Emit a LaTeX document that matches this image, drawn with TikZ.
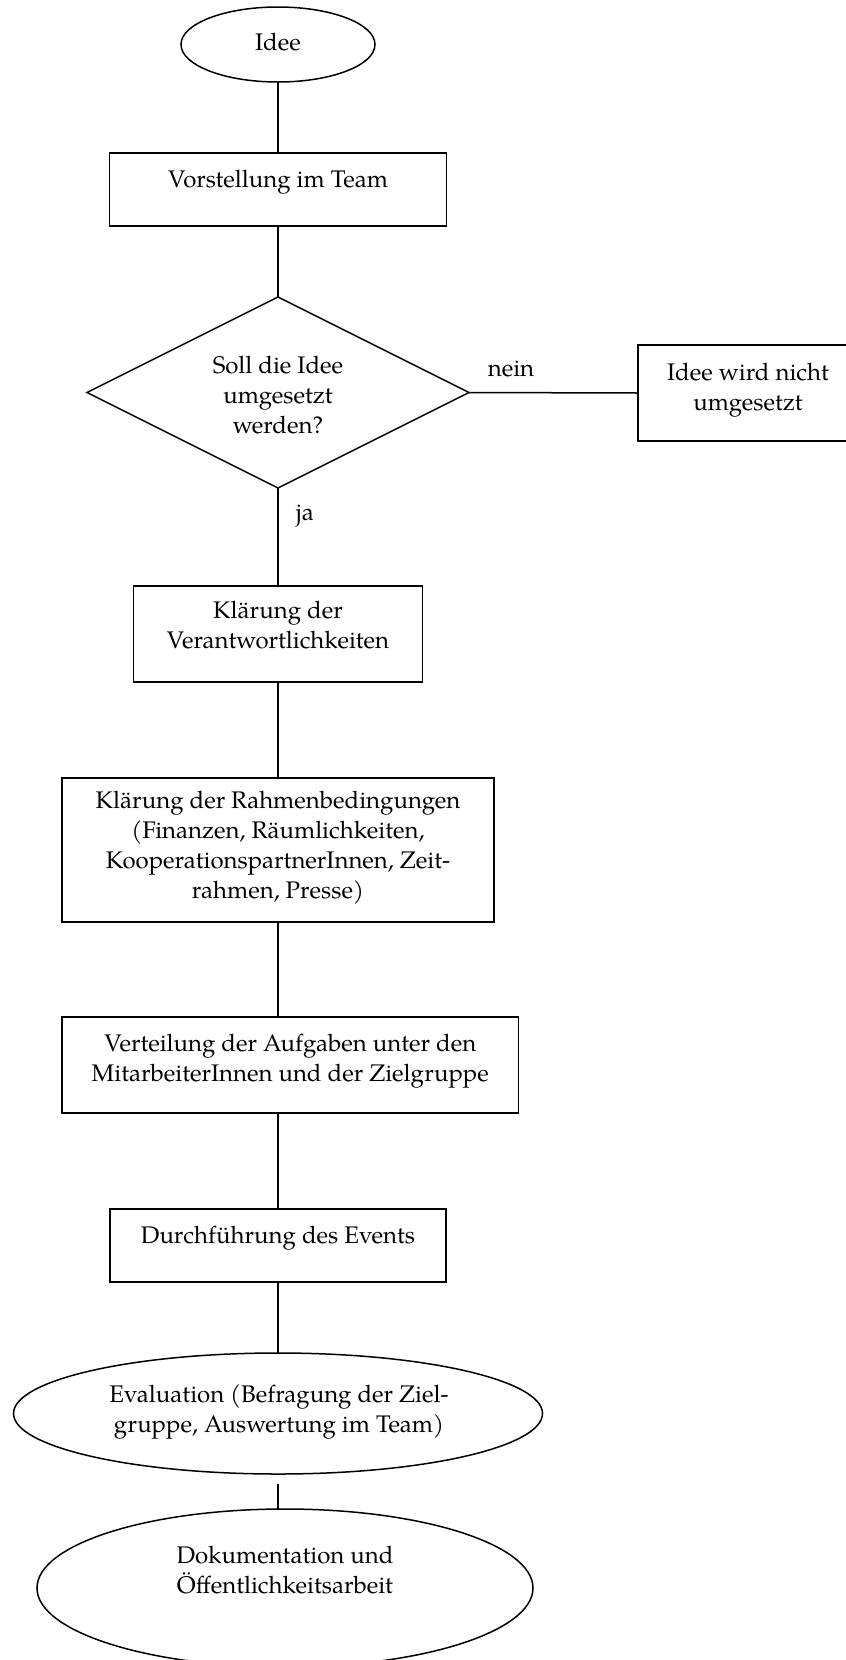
\documentclass[tikz,border=0pt]{standalone}
\usepackage{fontspec}
\setmainfont{TeX Gyre Pagella}
\usetikzlibrary{shapes.geometric}
\begin{document}
\begin{tikzpicture}[x=0.5pt,y=-0.5pt,
  conn/.style={draw=black,line width=0.75pt},
  box/.style={draw=black,line width=0.75pt,rectangle,inner sep=0pt,outer sep=0pt},
  oval/.style={draw=black,line width=0.75pt,ellipse,inner sep=0pt,outer sep=0pt},
  dia/.style={draw=black,line width=0.75pt,diamond,inner sep=0pt,outer sep=0pt},
  txt/.style={align=center,inner sep=0pt,anchor=base,font=\fontsize{12}{15}\selectfont},
]
\useasboundingbox (0,0) rectangle (846,1660);
\clip (0,0) rectangle (846,1660);

\node[oval,minimum width=97pt,minimum height=37.5pt] (idee) at (278,44.5) {};
\node[txt] (ideeT) at (278,50.7) {Idee};

\node[box,minimum width=168.5pt,minimum height=36.5pt] (vor) at (278,189.5) {};
\node[txt] (vorT) at (278,187.5) {Vorstellung im Team};

\node[dia,minimum width=191pt,minimum height=95.5pt] (dec) at (278,392.5) {};
\node[txt] (decT) at (278,433) {Soll die Idee\\umgesetzt\\werden?};

\node[txt] (nein) at (511,376) {nein};

\node[box,minimum width=110pt,minimum height=48pt] (nicht) at (748,393) {};
\node[txt] (nichtT) at (748,410) {Idee wird nicht\\umgesetzt};

\node[txt] (ja) at (305,520) {ja};

\node[box,minimum width=144.5pt,minimum height=48pt] (verant) at (278,634) {};
\node[txt] (verantT) at (278,648) {Klärung der\\Verantwortlichkeiten};

\node[box,minimum width=216pt,minimum height=72pt] (rahmen) at (278,850) {};
\node[txt] (rahmenT) at (278,898) {Klärung der Rahmenbedingungen\\(Finanzen, Räumlichkeiten,\\KooperationspartnerInnen, Zeit-\\rahmen, Presse)};

\node[box,minimum width=228.25pt,minimum height=48pt] (vert) at (290.3,1065) {};
\node[txt] (vertT) at (290.3,1081) {Verteilung der Aufgaben unter den\\MitarbeiterInnen und der Zielgruppe};

\node[box,minimum width=168pt,minimum height=36.5pt] (durch) at (278,1245.5) {};
\node[txt] (durchT) at (278,1243) {Durchführung des Events};

\node[oval,minimum width=264.5pt,minimum height=60.5pt] (eval) at (278,1413.5) {};
\node[txt] (evalT) at (279,1432) {Evaluation (Befragung der Ziel-\\gruppe, Auswertung im Team)};

\node[oval,minimum width=248pt,minimum height=79pt] (doku) at (285,1588) {};
\node[txt] (dokuT) at (285,1593) {Dokumentation und\\Öffentlichkeitsarbeit};

\draw[conn] (idee.south) -- (vor.north);
\draw[conn] (vor.south) -- (dec.north);
\draw[conn] (dec.east) -- (nicht.west);
\draw[conn] (dec.south) -- (verant.north);
\draw[conn] (verant.south) -- (rahmen.north);
\draw[conn] (rahmen.south) -- (vert.north -| rahmen.south);
\draw[conn] (vert.south -| durch.north) -- (durch.north);
\draw[conn] (durch.south) -- (eval.north);
\draw[conn] ([yshift=-5pt]eval.south) -- (doku.north -| eval.south);
\end{tikzpicture}
\end{document}
